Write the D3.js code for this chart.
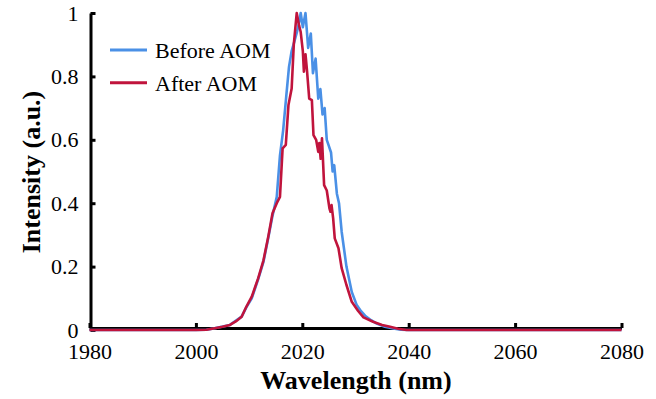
<!DOCTYPE html>
<html>
<head>
<meta charset="utf-8">
<script src="https://cdn.jsdelivr.net/npm/d3@7"></script>
<style>
  body { margin: 0; background: #fff; }
  text { font-family: "Liberation Serif", "Times New Roman", serif; fill: #000; }
</style>
</head>
<body>
<div id="chart"></div>
<script>
// Spectra (wavelength nm, normalised intensity)
const beforeWl = [1980, 2000, 2002, 2003.3, 2006.4, 2008.6, 2009.5, 2010.5, 2011.7, 2012.7, 2013.6, 2014.4, 2015.2, 2015.8, 2016.4, 2017.0, 2017.5, 2018.0, 2018.5, 2019.0, 2019.4, 2019.7, 2020.1, 2020.6, 2021.1, 2021.6, 2022.0, 2022.5, 2023.0, 2023.4, 2023.8, 2024.2, 2024.6, 2025.0, 2025.4, 2025.7, 2026.0, 2026.5, 2026.9, 2027.4, 2028.3, 2029.3, 2030.2, 2031.0, 2031.8, 2033.0, 2034.0, 2035.5, 2037.1, 2038.5, 2040, 2080];
const beforeI = [0, 0, 0.001, 0.005, 0.016, 0.042, 0.072, 0.10, 0.16, 0.215, 0.29, 0.36, 0.42, 0.55, 0.63, 0.74, 0.83, 0.88, 0.91, 0.94, 0.97, 1.0, 0.955, 1.0, 0.89, 0.935, 0.81, 0.856, 0.73, 0.76, 0.68, 0.70, 0.60, 0.58, 0.56, 0.50, 0.52, 0.43, 0.40, 0.31, 0.20, 0.12, 0.08, 0.06, 0.045, 0.03, 0.02, 0.01, 0.005, 0.001, 0, 0];

const afterWl = [1980, 2000, 2002, 2003.3, 2005, 2006.4, 2007.5, 2008.6, 2009.5, 2010.5, 2011.7, 2012.7, 2013.6, 2014.4, 2015.2, 2015.8, 2016.3, 2016.9, 2017.4, 2018.0, 2018.4, 2018.95, 2019.4, 2019.7, 2020.1, 2020.3, 2020.6, 2020.9, 2021.3, 2021.8, 2022.1, 2022.6, 2023.0, 2023.2, 2023.45, 2023.7, 2024.1, 2024.6, 2025.1, 2025.3, 2025.5, 2025.8, 2026.1, 2026.8, 2027.4, 2028.3, 2029.3, 2030.5, 2031.5, 2033.3, 2035, 2036.5, 2038, 2039.6, 2080];
const afterI = [0, 0, 0.001, 0.005, 0.01, 0.016, 0.027, 0.042, 0.074, 0.105, 0.163, 0.22, 0.294, 0.368, 0.40, 0.42, 0.573, 0.584, 0.71, 0.762, 0.90, 1.0, 0.96, 0.94, 0.88, 0.815, 0.87, 0.815, 0.73, 0.725, 0.615, 0.60, 0.562, 0.59, 0.54, 0.605, 0.457, 0.44, 0.384, 0.373, 0.394, 0.352, 0.289, 0.258, 0.195, 0.142, 0.089, 0.06, 0.04, 0.026, 0.016, 0.01, 0.004, 0, 0];

const xTicks = [1980, 2000, 2020, 2040, 2060, 2080];
const yTicks = [0, 0.2, 0.4, 0.6, 0.8, 1];
const seriesNames = ["Before AOM", "After AOM"];
const seriesColors = ["#4a90e6", "#c0143c"];

const serif = "'Liberation Serif', 'Times New Roman', serif";
const width = 656, height = 399;
const svg = d3.select("#chart").append("svg")
  .attr("width", width)
  .attr("height", height);

const x = d3.scaleLinear().domain([1980, 2080]).range([89.5, 621.5]);
const y = d3.scaleLinear().domain([0, 1]).range([330, 13]);

// Axes: ticks point inward
const xAxis = svg.append("g")
  .attr("transform", "translate(0,328)")
  .call(d3.axisBottom(x).tickValues(xTicks).tickFormat(d3.format("d")).tickSizeInner(-5).tickSizeOuter(0).tickPadding(10));

const yAxis = svg.append("g")
  .attr("transform", "translate(90.5,0)")
  .call(d3.axisLeft(y).tickValues(yTicks).tickFormat(d => d3.format("")(d)).tickSizeInner(-5).tickSizeOuter(0).tickPadding(12));

[xAxis, yAxis].forEach(g => {
  g.attr("font-family", serif).attr("font-size", 22);
  g.select(".domain").attr("stroke", "#000").attr("stroke-width", 3);
  g.selectAll(".tick line").attr("stroke", "#000").attr("stroke-width", 3);
  g.selectAll(".tick text")
    .attr("font-family", serif)
    .attr("font-size", 22)
    .attr("fill", "#000");
});
xAxis.selectAll(".tick text").attr("dy", "0.71em").attr("y", 15);
yAxis.selectAll(".tick text").attr("dy", "0.32em");

// Curves
const line = d3.line().x(d => x(d[0])).y(d => y(d[1]));
const beforeData = d3.zip(beforeWl, beforeI);
const afterData = d3.zip(afterWl, afterI);

svg.append("path")
  .datum(beforeData)
  .attr("d", line)
  .attr("fill", "none")
  .attr("stroke", seriesColors[0])
  .attr("stroke-width", 2.6)
  .attr("stroke-linejoin", "round");

svg.append("path")
  .datum(afterData)
  .attr("d", line)
  .attr("fill", "none")
  .attr("stroke", seriesColors[1])
  .attr("stroke-width", 2.6)
  .attr("stroke-linejoin", "round");

// Legend
const legend = svg.append("g");
seriesNames.forEach((name, i) => {
  const ly = 50 + i * 32.7;
  legend.append("line")
    .attr("x1", 110).attr("x2", 147)
    .attr("y1", ly).attr("y2", ly)
    .attr("stroke", seriesColors[i])
    .attr("stroke-width", 3);
  legend.append("text")
    .attr("x", 155)
    .attr("y", ly + 8)
    .style("font-size", "22px")
    .text(name);
});

// Axis titles
svg.append("text")
  .attr("x", 356)
  .attr("y", 389)
  .attr("text-anchor", "middle")
  .style("font-size", "26px")
  .style("font-weight", "bold")
  .text("Wavelength (nm)");

svg.append("text")
  .attr("transform", "translate(40,172) rotate(-90)")
  .attr("text-anchor", "middle")
  .style("font-size", "26px")
  .style("font-weight", "bold")
  .text("Intensity (a.u.)");
</script>
</body>
</html>
